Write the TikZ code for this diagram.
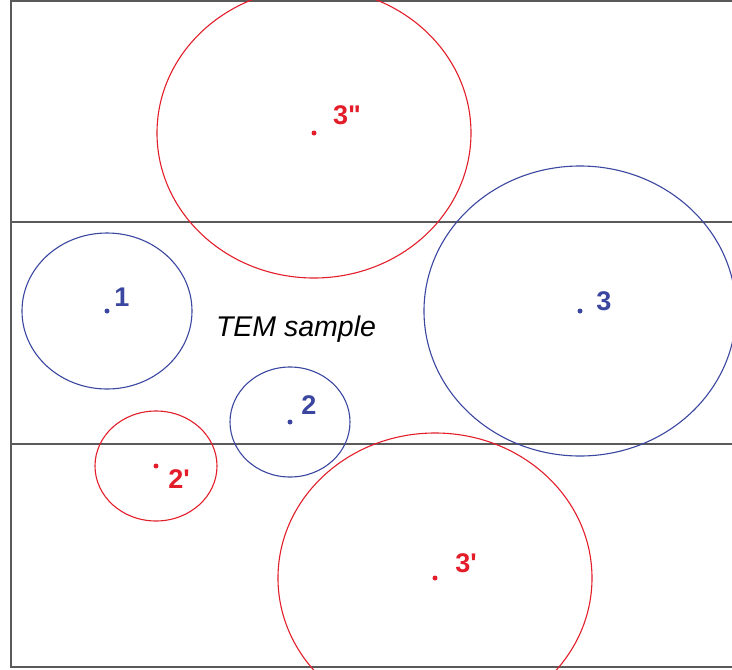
\documentclass[tikz,border=0pt]{standalone}
\usepackage{fontspec}
\usepackage{xcolor}
\usepackage{tikz}
\usetikzlibrary{positioning}
\newfontfamily\labfont{Liberation Sans}[Ligatures=TeXOff]
\definecolor{temBlue}{HTML}{3A46A0}
\definecolor{temRed}{HTML}{E31E2A}
\definecolor{temFrame}{HTML}{5A5A5A}
\tikzset{
  frame/.style={draw=temFrame,line width=1.6pt},
  bluering/.style={draw=temBlue,line width=1.1pt},
  redring/.style={draw=temRed,line width=1.1pt},
  bluedot/.style={circle,fill=temBlue,inner sep=0pt,minimum size=5pt},
  reddot/.style={circle,fill=temRed,inner sep=0pt,minimum size=5pt},
  bluelabel/.style={font=\labfont\bfseries\fontsize{27}{27}\selectfont,text=temBlue,inner sep=0pt},
  redlabel/.style={font=\labfont\bfseries\fontsize{27}{27}\selectfont,text=temRed,inner sep=0pt}
}

\begin{document}
\begin{tikzpicture}[x=1pt,y=-1pt]
  \useasboundingbox (0,0) rectangle (732,670);
  \clip (0,0) rectangle (732,670);

  % specimen frame and TEM sample slab
  \draw[frame] (11,1) rectangle (745,667);
  \draw[frame] (11,222) -- (745,222);
  \draw[frame] (11,444) -- (745,444);
  \node[font=\labfont\itshape\fontsize{28.5}{28.5}\selectfont,inner sep=0pt] (sample) at (296,329) {TEM sample};

  % blue: inside the sample
  \node[bluedot] (c1) at (107,311) {};
  \node[bluedot] (c2) at (290,422) {};
  \node[bluedot] (c3) at (580,311) {};
  \draw[bluering] (c1) ellipse (85 and 78);
  \draw[bluering] (c2) ellipse (60 and 55);
  \draw[bluering] (c3) ellipse (156 and 145);
  \node[bluelabel] (l1) at (122,297) {1};
  \node[bluelabel] (l2) at (309,405) {2};
  \node[bluelabel] (l3) at (604,301) {3};

  % red: outside the sample
  \node[reddot] (c2p) at (156,466) {};
  \node[reddot] (c3p) at (435,578) {};
  \node[reddot] (c3pp) at (314,133) {};
  \draw[redring] (c2p) ellipse (61 and 55);
  \draw[redring] (c3p) ellipse (157 and 145);
  \draw[redring] (c3pp) ellipse (157 and 145);
  \node[redlabel] (l2p) at (179,479) {2'};
  \node[redlabel] (l3p) at (466,563) {3'};
  \node[redlabel] (l3pp) at (347,115) {3"};
\end{tikzpicture}
\end{document}
